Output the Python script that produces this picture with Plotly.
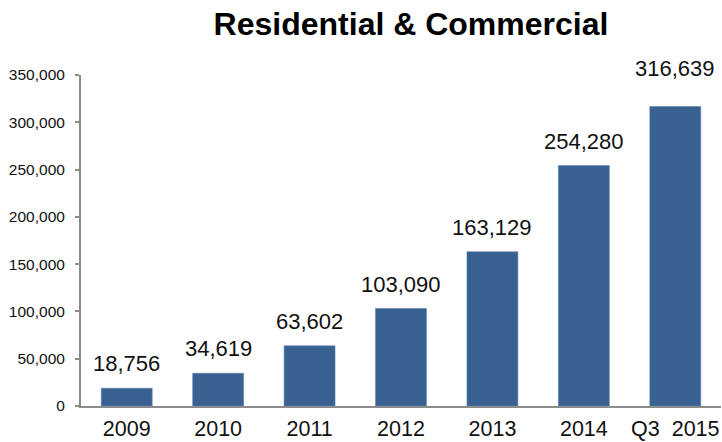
import plotly.graph_objects as go

periods = ["2009", "2010", "2011", "2012", "2013", "2014", "Q3  2015"]
units = [18756, 34619, 63602, 103090, 163129, 254280, 316639]
y_ticks = [0, 50000, 100000, 150000, 200000, 250000, 300000, 350000]

BAR_COLOR = "#386192"
AXIS_COLOR = "#8c8c8c"
FONT = "Liberation Sans, Arial, sans-serif"

fig = go.Figure(
    go.Bar(
        x=periods,
        y=units,
        marker=dict(color=BAR_COLOR, line=dict(color="#5b7fae", width=0.6)),
        hoverinfo="x+y",
    )
)

# value labels above each bar (placed by category index); the latest period sits a little higher
for i, v in enumerate(units):
    fig.add_annotation(
        x=i, y=v, text=f"{v:,}", showarrow=False,
        yanchor="bottom", yshift=10 if i < len(units) - 1 else 24,
        font=dict(family=FONT, size=22, color="#111111"),
    )

fig.update_layout(
    width=722, height=442,
    margin=dict(l=81, r=1, t=75, b=36),
    paper_bgcolor="white", plot_bgcolor="white",
    bargap=0.443,
    showlegend=False,
    title=dict(
        text="<b>Residential & Commercial</b>",
        x=411 / 722, xanchor="center", xref="container",
        y=1 - 24 / 442, yanchor="middle", yref="container",
        font=dict(family=FONT, size=32, color="#000000"),
    ),
    font=dict(family=FONT, color="#111111"),
)

fig.update_yaxes(
    range=[0, 350000], tickvals=y_ticks, tickformat=",",
    showgrid=False, zeroline=False, automargin=False,
    showline=True, linecolor=AXIS_COLOR, linewidth=2,
    ticks="outside", ticklen=4, tickcolor=AXIS_COLOR, tickwidth=1.5,
    ticklabelstandoff=7,
    tickfont=dict(family=FONT, size=15.5, color="#111111"),
)
fig.update_xaxes(
    type="category", range=[-0.5, len(periods) - 0.5],
    showgrid=False, zeroline=False, automargin=False,
    showline=True, linecolor=AXIS_COLOR, linewidth=2,
    ticks="", ticklabelstandoff=2,
    tickfont=dict(family=FONT, size=21.5, color="#111111"),
)

fig.write_html("out.html")
